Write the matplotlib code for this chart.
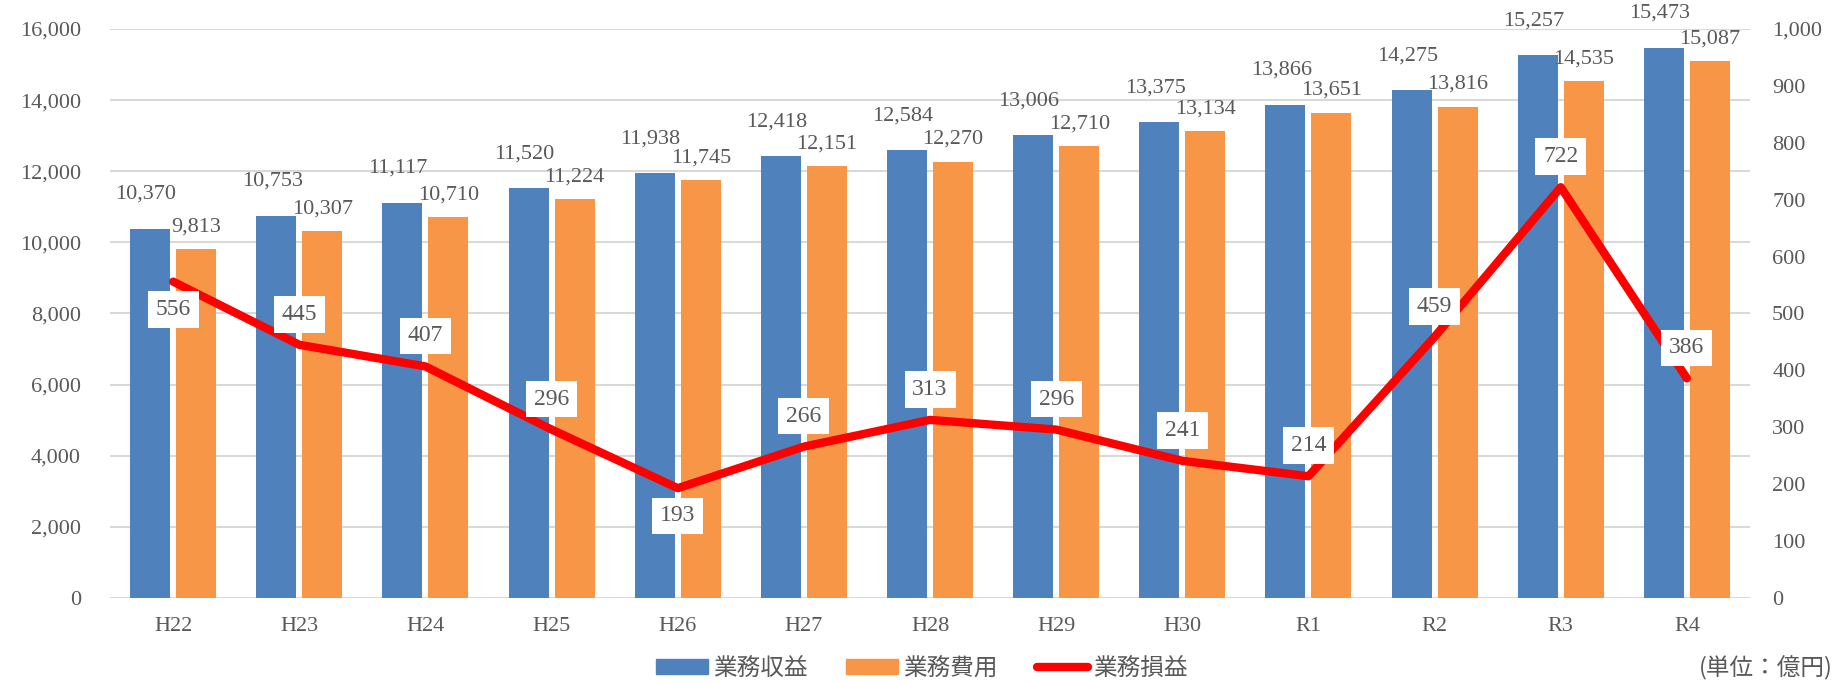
import numpy as np
import matplotlib.pyplot as plt
from matplotlib.ticker import FuncFormatter
from matplotlib.patches import Patch
from matplotlib.lines import Line2D

years = ['H22', 'H23', 'H24', 'H25', 'H26', 'H27', 'H28', 'H29', 'H30', 'R1', 'R2', 'R3', 'R4']
revenue = [10370, 10753, 11117, 11520, 11938, 12418, 12584, 13006, 13375, 13866, 14275, 15257, 15473]  # 業務収益
expense = [9813, 10307, 10710, 11224, 11745, 12151, 12270, 12710, 13134, 13651, 13816, 14535, 15087]  # 業務費用
profit = [556, 445, 407, 296, 193, 266, 313, 296, 241, 214, 459, 722, 386]  # 業務損益
profit_label_side = ['below', 'above', 'above', 'above', 'below', 'above', 'above',
                     'above', 'above', 'above', 'above', 'above', 'above']

BLUE = '#4F81BD'
ORANGE = '#F79646'
RED = '#FF0000'
GREY = '#595959'
GRID = '#D9D9D9'
num_font = 'Liberation Serif'
jp_font = ['Noto Sans CJK JP', 'DejaVu Sans']
NUM_SIZE = 16

fig = plt.figure(figsize=(18.44, 6.83), dpi=100)
ax = fig.add_axes([0.0597, 0.1245, 0.8893, 0.833])

x = np.arange(len(years))
w = 0.317
off = w / 2 + 0.024
ax.bar(x - off, revenue, w, color=BLUE, zorder=2)
ax.bar(x + off, expense, w, color=ORANGE, zorder=2)

ax.set_xlim(-0.5, len(years) - 0.5)
ax.set_ylim(0, 16000)
ax.set_yticks(range(0, 16001, 2000))
ax.yaxis.set_major_formatter(FuncFormatter(lambda v, p: f'{int(v):,}'))
ax.grid(axis='y', color=GRID, lw=1.5, zorder=0)
ax.set_axisbelow(True)
for s in ax.spines.values():
    s.set_visible(False)
ax.set_xticks(x)
ax.set_xticklabels(years)
ax.tick_params(axis='both', length=0, colors=GREY, labelsize=NUM_SIZE)
ax.tick_params(axis='y', pad=21)
ax.tick_params(axis='x', pad=14)
for t in ax.get_xticklabels() + ax.get_yticklabels():
    t.set_fontfamily(num_font)

# 棒の上の数値
for xi, v in zip(x, revenue):
    ax.annotate(f'{v:,}', (xi - off, v), xytext=(-3, 25), textcoords='offset points',
                ha='center', va='center', fontsize=NUM_SIZE, color=GREY, family=num_font)
for xi, v in zip(x, expense):
    ax.annotate(f'{v:,}', (xi + off, v), xytext=(0, 16), textcoords='offset points',
                ha='center', va='center', fontsize=NUM_SIZE, color=GREY, family=num_font)

# 業務損益（右軸）
ax2 = ax.twinx()
ax2.plot(x, profit, color=RED, lw=6, solid_capstyle='round', solid_joinstyle='round', zorder=3)
ax2.set_ylim(0, 1000)
ax2.set_yticks(range(0, 1001, 100))
ax2.yaxis.set_major_formatter(FuncFormatter(lambda v, p: f'{int(v):,}'))
for s in ax2.spines.values():
    s.set_visible(False)
ax2.tick_params(axis='y', length=0, colors=GREY, labelsize=NUM_SIZE, pad=16)
for t in ax2.get_yticklabels():
    t.set_fontfamily(num_font)

for xi, v, side in zip(x, profit, profit_label_side):
    dy = 22 if side == 'above' else -20
    ax2.annotate(f'{v}', (xi, v), xytext=(0, dy), textcoords='offset points',
                 ha='center', va='center', fontsize=17, color=GREY, family=num_font, zorder=5,
                 bbox=dict(boxstyle='square,pad=0.33', fc='white', ec='none'))

handles = [Patch(color=BLUE), Patch(color=ORANGE), Line2D([], [], color=RED, lw=6, solid_capstyle='round')]
fig.legend(handles, ['業務収益', '業務費用', '業務損益'], loc='center', bbox_to_anchor=(0.5, 0.022),
           ncol=3, frameon=False, prop={'family': jp_font, 'size': 17}, labelcolor=GREY,
           handlelength=2.2, handleheight=0.6, handletextpad=0.2, columnspacing=1.65,
           borderpad=0.1)

fig.text(0.994, 0.022, '(単位：億円)', ha='right', va='center', fontsize=17, color=GREY, family=jp_font)

fig.savefig('out.png', dpi=100)
